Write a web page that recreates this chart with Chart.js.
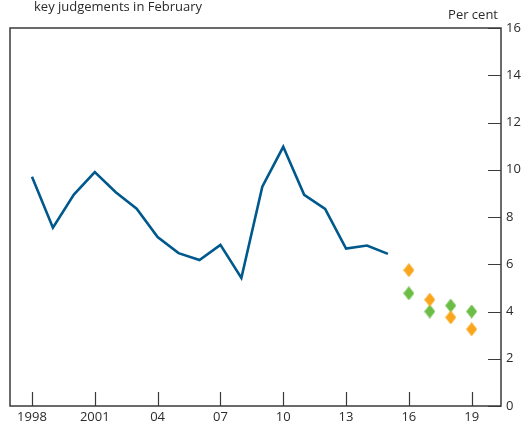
<!DOCTYPE html>
<html>
<head>
<meta charset="utf-8">
<script src="https://cdn.jsdelivr.net/npm/chart.js@4/dist/chart.umd.min.js"></script>
<style>
  html, body { margin: 0; padding: 0; background: #fff; }
  #wrap { position: relative; width: 526px; height: 425px; }
  canvas { display: block; }
</style>
</head>
<body>
<div id="wrap"><canvas id="c" width="526" height="425"></canvas></div>
<script>
// Outturns, 1998 to 2015
const years = [1998, 1999, 2000, 2001, 2002, 2003, 2004, 2005, 2006, 2007, 2008, 2009, 2010, 2011, 2012, 2013, 2014, 2015];
const outturn = [9.7, 7.55, 8.95, 9.9, 9.05, 8.35, 7.15, 6.47, 6.18, 6.82, 5.42, 9.28, 10.97, 8.94, 8.34, 6.66, 6.79, 6.44];

// Projections, 2016 to 2019
const projYears = [2016, 2017, 2018, 2019];
const projOrange = [5.75, 4.5, 3.75, 3.25];
const projGreen = [4.77, 4.0, 4.25, 4.0];

// Axis ticks
const xTickValues = [1998, 2001, 2004, 2007, 2010, 2013, 2016, 2019];
const xTickLabels = ['1998', '2001', '04', '07', '10', '13', '16', '19'];
const yTickValues = [0, 2, 4, 6, 8, 10, 12, 14, 16];

const FONT = '"Open Sans", "Noto Sans", sans-serif';
const INK = '#2b2b2b';
const FRAME = '#3a3a3a';

function diamond(color) {
  const w = 11, h = 14;
  const cv = document.createElement('canvas');
  cv.width = w; cv.height = h;
  const g = cv.getContext('2d');
  g.fillStyle = color;
  g.beginPath();
  g.moveTo(w / 2, 0);
  g.lineTo(w, h / 2);
  g.lineTo(w / 2, h);
  g.lineTo(0, h / 2);
  g.closePath();
  g.fill();
  return cv;
}

const toPts = (xs, ys) => xs.map((x, i) => ({ x: x, y: ys[i] }));

// Frame around the plot plus inward-pointing tick marks
const framePlugin = {
  id: 'frame',
  afterDraw(chart) {
    const { ctx, chartArea: a, scales } = chart;
    ctx.save();
    ctx.strokeStyle = FRAME;
    ctx.lineWidth = 1.5;
    ctx.strokeRect(a.left, a.top, a.right - a.left, a.bottom - a.top);
    ctx.beginPath();
    xTickValues.forEach(v => {
      const px = Math.round(scales.x.getPixelForValue(v)) + 0.5;
      ctx.moveTo(px, a.bottom);
      ctx.lineTo(px, a.bottom - 14);
    });
    yTickValues.forEach(v => {
      const py = Math.round(scales.y.getPixelForValue(v)) + 0.5;
      ctx.moveTo(a.right, py);
      ctx.lineTo(a.right - 13, py);
    });
    ctx.lineWidth = 1.2;
    ctx.stroke();

    ctx.fillStyle = INK;
    ctx.font = '13px ' + FONT;
    ctx.textBaseline = 'middle';
    ctx.textAlign = 'right';
    ctx.fillText('Per cent', a.right - 3, 15);
    ctx.textAlign = 'left';
    ctx.fillText('key judgements in February', 34, 7);
    ctx.restore();
  }
};

new Chart(document.getElementById('c'), {
  type: 'line',
  data: {
    datasets: [
      {
        data: toPts(years, outturn),
        borderColor: '#00598C',
        borderWidth: 2.6,
        pointRadius: 0,
        tension: 0,
        fill: false
      },
      {
        data: toPts(projYears, projOrange),
        showLine: false,
        pointStyle: diamond('#F9A61C'),
        pointRadius: 6
      },
      {
        data: toPts(projYears, projGreen),
        showLine: false,
        pointStyle: diamond('#6CBD45'),
        pointRadius: 6
      }
    ]
  },
  options: {
    responsive: false,
    animation: false,
    events: [],
    layout: { padding: { left: 10, top: 28, right: 0, bottom: 0 } },
    plugins: { legend: { display: false }, tooltip: { enabled: false } },
    scales: {
      x: {
        type: 'linear',
        min: 1996.95,
        max: 2020.4,
        afterBuildTicks(scale) { scale.ticks = xTickValues.map(v => ({ value: v })); },
        afterFit(scale) { scale.height = 19; },
        grid: { display: false, drawTicks: false },
        border: { display: false },
        ticks: {
          padding: 3,
          color: INK,
          font: { family: FONT, size: 13 },
          maxRotation: 0,
          autoSkip: false,
          callback: v => xTickLabels[xTickValues.indexOf(v)] ?? ''
        }
      },
      y: {
        position: 'right',
        min: 0,
        max: 16,
        afterBuildTicks(scale) { scale.ticks = yTickValues.map(v => ({ value: v })); },
        afterFit(scale) { scale.width = 25; },
        grid: { display: false, drawTicks: false },
        border: { display: false },
        ticks: {
          padding: 5,
          color: INK,
          font: { family: FONT, size: 13 }
        }
      }
    }
  },
  plugins: [framePlugin]
});
</script>
</body>
</html>
